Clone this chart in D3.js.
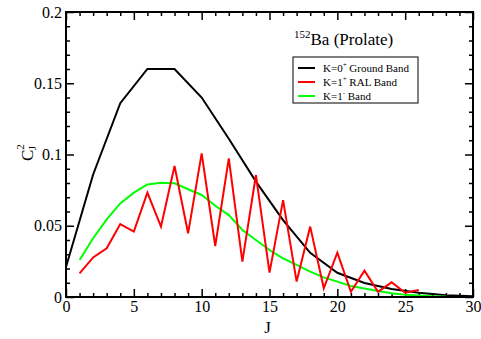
<!doctype html>
<html>
<head>
<meta charset="utf-8">
<style>
    body { margin: 0; background: #fff; }
    text { font-family: "Liberation Serif", "DejaVu Serif", serif; }
</style>
<script src="https://d3js.org/d3.v7.min.js"></script>
</head>
<body>
<svg width="481" height="339"></svg>
<script>
    // values
    var groundJ = [0, 2, 4, 6, 8, 10, 12, 14, 16, 18, 20, 22, 24, 26, 28, 30];
    var groundC = [0.021, 0.086, 0.136, 0.160, 0.160, 0.140, 0.111, 0.081, 0.054, 0.031, 0.017, 0.0098, 0.0056, 0.003, 0.0012, 0.0005];

    var ralJ = d3.range(1, 27);
    var ralC = [0.0166, 0.0278, 0.0342, 0.0512, 0.0459, 0.0732, 0.0494, 0.0919, 0.0447, 0.1008,
                0.0358, 0.0973, 0.0248, 0.0856, 0.0171, 0.068, 0.0108, 0.0494, 0.0061, 0.0311,
                0.0037, 0.0185, 0.0037, 0.0103, 0.003, 0.0049];

    var minusJ = d3.range(1, 29);
    var minusC = [0.026, 0.0412, 0.0545, 0.0657, 0.0732, 0.079, 0.0802, 0.0798, 0.0756, 0.0716,
                  0.064, 0.0575, 0.047, 0.04, 0.033, 0.0271, 0.0225, 0.0178, 0.0138, 0.0108,
                  0.0077, 0.006, 0.0042, 0.0026, 0.0016, 0.001, 0.0005, 0.0003];

    var xTicks = [0, 5, 10, 15, 20, 25, 30];
    var yTicks = [0, 0.05, 0.1, 0.15, 0.2];

    var svg = d3.select("svg");
    var pLeft = 66, pRight = 473, pTop = 12, pBottom = 297;

    var x = d3.scaleLinear().domain([0, 30]).range([pLeft, pRight]);
    var y = d3.scaleLinear().domain([0, 0.2]).range([pBottom, pTop]);

    var xMinor = d3.range(0, 31).filter(function(d) { return d % 5 != 0; });
    var yMinor = d3.range(0, 21).map(function(d) { return d / 100; }).filter(function(d, i) { return i % 5 != 0; });

    var yFmt = function(d) { return d == 0 ? "0" : String(+d.toFixed(2)); };

    function addAxis(axis, tx, ty) {
        var g = svg.append("g").attr("transform", "translate(" + tx + "," + ty + ")").call(axis);
        g.select(".domain").remove();
        g.selectAll("line").attr("stroke", "#000").attr("stroke-width", 1.5);
        g.selectAll("text").attr("font-size", "16px").attr("fill", "#000")
            .style("font-family", '"Liberation Serif", serif');
        return g;
    }

    // major ticks (inward)
    addAxis(d3.axisBottom(x).tickValues(xTicks).tickSize(-8).tickPadding(4).tickFormat(d3.format("d")), 0, pBottom);
    addAxis(d3.axisTop(x).tickValues(xTicks).tickSize(-8).tickFormat(""), 0, pTop);
    addAxis(d3.axisLeft(y).tickValues(yTicks).tickSize(-8).tickPadding(4).tickFormat(yFmt), pLeft, 0);
    addAxis(d3.axisRight(y).tickValues(yTicks).tickSize(-8).tickFormat(""), pRight, 0);
    // minor ticks
    addAxis(d3.axisBottom(x).tickValues(xMinor).tickSize(-4).tickFormat(""), 0, pBottom);
    addAxis(d3.axisTop(x).tickValues(xMinor).tickSize(-4).tickFormat(""), 0, pTop);
    addAxis(d3.axisLeft(y).tickValues(yMinor).tickSize(-4).tickFormat(""), pLeft, 0);
    addAxis(d3.axisRight(y).tickValues(yMinor).tickSize(-4).tickFormat(""), pRight, 0);

    // data lines
    var line = d3.line()
        .x(function(d) { return x(d[0]); })
        .y(function(d) { return y(d[1]); });

    var series = [
        { J: groundJ, C: groundC, color: "#000000" },
        { J: minusJ, C: minusC, color: "#00ff00" },
        { J: ralJ, C: ralC, color: "#ff0000" }
    ];

    svg.append("defs").append("clipPath").attr("id", "clip")
        .append("rect").attr("x", pLeft).attr("y", pTop).attr("width", pRight - pLeft).attr("height", pBottom - pTop);

    series.forEach(function(s) {
        svg.append("path")
            .datum(d3.zip(s.J, s.C))
            .attr("clip-path", "url(#clip)")
            .attr("fill", "none")
            .attr("stroke", s.color)
            .attr("stroke-width", 2)
            .attr("stroke-linejoin", "miter")
            .attr("d", line);
    });

    // frame
    svg.append("rect")
        .attr("x", pLeft).attr("y", pTop)
        .attr("width", pRight - pLeft).attr("height", pBottom - pTop)
        .attr("fill", "none").attr("stroke", "#000").attr("stroke-width", 2);

    // title
    var title = svg.append("text").attr("x", 294).attr("y", 45).attr("font-size", "17px");
    title.append("tspan").attr("font-size", "11px").attr("dy", "-7").text("152");
    title.append("tspan").attr("dy", "7").text("Ba (Prolate)");

    // legend
    svg.append("rect")
        .attr("x", 293).attr("y", 57).attr("width", 125).attr("height", 46)
        .attr("fill", "#fff").attr("stroke", "#000").attr("stroke-width", 1);

    var legend = [
        { k: "K=0", sign: "+", rest: " Ground Band", color: "#000000" },
        { k: "K=1", sign: "+", rest: " RAL Band", color: "#ff0000" },
        { k: "K=1", sign: "-", rest: " Band", color: "#00ff00" }
    ];
    legend.forEach(function(d, i) {
        var yy = 68 + i * 14;
        svg.append("line")
            .attr("x1", 298).attr("x2", 315).attr("y1", yy).attr("y2", yy)
            .attr("stroke", d.color).attr("stroke-width", 2);
        var t = svg.append("text").attr("x", 323).attr("y", yy + 4).attr("font-size", "11px");
        t.append("tspan").text(d.k);
        t.append("tspan").attr("font-size", "7px").attr("dy", "-5").text(d.sign);
        t.append("tspan").attr("dy", "5").text(d.rest);
    });

    // axis labels
    svg.append("text")
        .attr("x", (pLeft + pRight) / 2 - 2).attr("y", 333)
        .attr("text-anchor", "middle").attr("font-size", "17px").text("J");

    var yl = svg.append("text")
        .attr("transform", "translate(33,161) rotate(-90)")
        .attr("font-size", "17px");
    yl.append("tspan").text("C");
    yl.append("tspan").attr("font-size", "11px").attr("dy", "-9").text("2");
    yl.append("tspan").attr("font-size", "11px").attr("dx", "-6").attr("dy", "12").text("J");
</script>
</body>
</html>
